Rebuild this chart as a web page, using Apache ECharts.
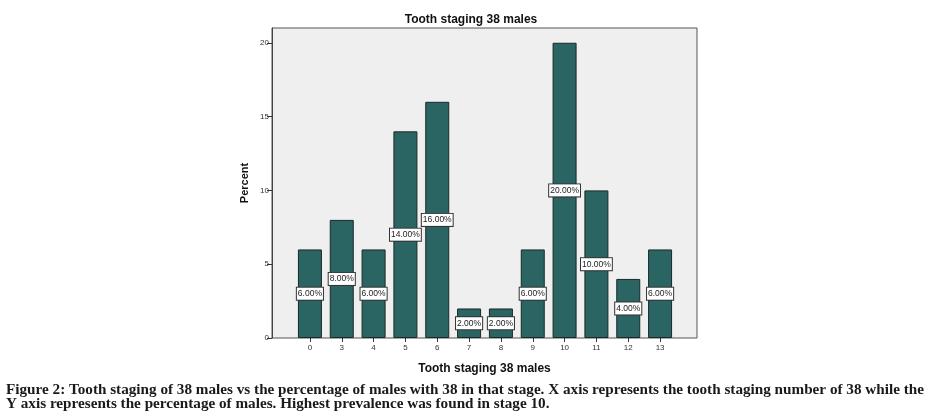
<!DOCTYPE html>
<html>
<head>
<meta charset="utf-8">
<script src="https://cdn.jsdelivr.net/npm/echarts@6/dist/echarts.min.js"></script>
<style>
html,body{margin:0;padding:0;background:#fff;}
#c{width:934px;height:418px;}
</style>
</head>
<body>
<div id="c"></div>
<script>
const titleText = 'Tooth staging 38 males';
const xAxisName = 'Tooth staging 38 males';
const yAxisName = 'Percent';
const categories = ['0','3','4','5','6','7','8','9','10','11','12','13'];
const percentValues = [6, 8, 6, 14, 16, 2, 2, 6, 20, 10, 4, 6];
const yTicks = [0, 5, 10, 15, 20];
const captionLines = [
  'Figure 2: Tooth staging of 38 males vs the percentage of males with 38 in that stage. X axis represents the tooth staging number of 38 while the',
  'Y axis represents the percentage of males. Highest prevalence was found in stage 10.'
];

const chart = echarts.init(document.getElementById('c'));
const sans = 'Liberation Sans';
chart.setOption({
  animation: false,
  backgroundColor: '#ffffff',
  title: {
    text: titleText,
    left: 466, top: 9, textAlign: 'center',
    textStyle: {fontFamily: sans, fontSize: 12, fontWeight: 'bold', color: '#111'}
  },
  grid: [
    {left: 272, top: 28, width: 425, height: 310, show: true, backgroundColor: '#efefef', borderColor: '#555', borderWidth: 1},
    {left: 294, top: 28, width: 382, height: 310}
  ],
  xAxis: [
    {gridIndex: 0, type: 'category', data: [''], axisLine: {show: false}, axisTick: {show: false}, axisLabel: {show: false},
     name: xAxisName, nameLocation: 'middle', nameGap: 25,
     nameTextStyle: {fontFamily: sans, fontSize: 12, fontWeight: 'bold', color: '#111'}},
    {gridIndex: 1, type: 'category', data: categories, boundaryGap: true,
     axisLine: {show: false},
     axisTick: {show: true, alignWithLabel: true, length: 4, lineStyle: {color: '#333'}},
     axisLabel: {margin: 6, fontFamily: sans, fontSize: 8, color: '#333'}}
  ],
  yAxis: [
    {gridIndex: 0, type: 'value', min: 0, max: 21,
     axisLine: {show: true, lineStyle: {color: '#444'}},
     axisTick: {show: true, length: 5, customValues: yTicks, lineStyle: {color: '#333'}},
     axisLabel: {customValues: yTicks, margin: 3, fontFamily: sans, fontSize: 8, color: '#333'},
     splitLine: {show: false},
     name: yAxisName, nameLocation: 'middle', nameGap: 22, nameRotate: 90,
     nameTextStyle: {fontFamily: sans, fontSize: 11, fontWeight: 'bold', color: '#111'}},
    {gridIndex: 1, type: 'value', min: 0, max: 21, show: false, splitLine: {show: false}}
  ],
  series: [{
    type: 'bar', xAxisIndex: 1, yAxisIndex: 1,
    data: percentValues, barWidth: 24,
    itemStyle: {color: '#2b6563', borderColor: '#1a2828', borderWidth: 1},
    label: {
      show: true, position: 'inside',
      formatter: p => p.value.toFixed(2) + '%',
      backgroundColor: '#ffffff', borderColor: '#333', borderWidth: 1,
      padding: [2, 1, 1, 1], fontFamily: sans, fontSize: 8.5, color: '#222'
    }
  }],
  graphic: captionLines.map((t, i) => ({
    type: 'text', left: 6, top: 383 + i * 14,
    style: {text: t, font: 'bold 15.2px "Liberation Serif"', fill: '#1a1a1a'}
  }))
});
</script>
</body>
</html>
